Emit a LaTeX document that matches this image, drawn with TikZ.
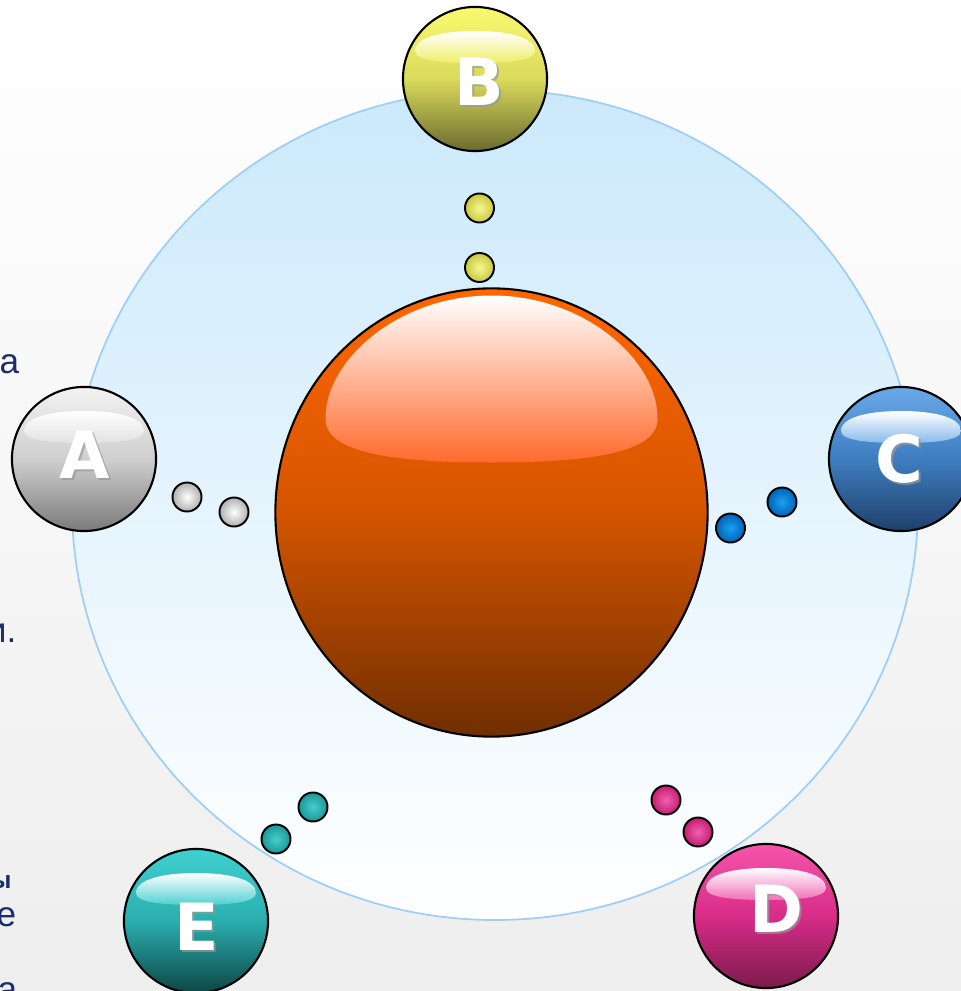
\documentclass[tikz,border=0pt]{standalone}
\usepackage{fontspec}
\setmainfont{Liberation Sans}
\newfontfamily\letterfont{DejaVu Sans}
\usetikzlibrary{shapes.geometric}

%% Colours
\definecolor{textNavy}{HTML}{1C2D6B}
\definecolor{pageBot}{HTML}{EEEEEE}
\definecolor{ringFill}{HTML}{CBE9FC}
\definecolor{ringLine}{HTML}{9FCFF7}
\definecolor{coreTop}{HTML}{FF6600}
\definecolor{coreMid}{HTML}{D45500}
\definecolor{coreBot}{HTML}{702E00}
\definecolor{coreHi}{HTML}{FF6A2C}
\definecolor{ATop}{HTML}{F2F2F2}\definecolor{AMid}{HTML}{CFCFCF}\definecolor{ABot}{HTML}{7A7A7A}
\definecolor{AHi}{HTML}{E2E2E2}\definecolor{AIn}{HTML}{FFFFFF}\definecolor{AOut}{HTML}{B0B0B0}
\definecolor{BTop}{HTML}{FAFA70}\definecolor{BMid}{HTML}{DADA5C}\definecolor{BBot}{HTML}{6A6A2E}
\definecolor{BHi}{HTML}{EEEE6A}\definecolor{BIn}{HTML}{F8F890}\definecolor{BOut}{HTML}{C8C840}
\definecolor{CTop}{HTML}{6AA8E8}\definecolor{CMid}{HTML}{3E7EC0}\definecolor{CBot}{HTML}{1E406C}
\definecolor{CHi}{HTML}{88BAEC}\definecolor{CIn}{HTML}{1AA0F4}\definecolor{COut}{HTML}{0062B4}
\definecolor{DTop}{HTML}{F555AA}\definecolor{DMid}{HTML}{D82C88}\definecolor{DBot}{HTML}{7C1A4C}
\definecolor{DHi}{HTML}{F070B8}\definecolor{DIn}{HTML}{F060B0}\definecolor{DOut}{HTML}{C41C72}
\definecolor{ETop}{HTML}{40D0D0}\definecolor{EMid}{HTML}{2AAEAE}\definecolor{EBot}{HTML}{0E4444}
\definecolor{EHi}{HTML}{50D0D0}\definecolor{EIn}{HTML}{48CCCC}\definecolor{EOut}{HTML}{1A9898}

\tikzset{
  sphere/.style={circle,draw=black,line width=0.6pt,minimum size=1.44cm,inner sep=0pt,
    top color=#1Top,bottom color=#1Bot,middle color=#1Mid},
  dot/.style={circle,draw=black,line width=0.55pt,minimum size=0.29cm,inner sep=0pt,
    inner color=#1In,outer color=#1Out},
  letter/.style={inner sep=0pt,text=white,font=\letterfont\bfseries\fontsize{18.5}{20}\selectfont},
  letter shadow/.style={letter,text=black!40,opacity=0.7},
  fragment/.style={anchor=base east,inner sep=0pt,text=textNavy,font=\fontsize{10}{12}\selectfont}
}

\begin{document}
\begin{tikzpicture}[x=0.01cm,y=0.01cm]
        \useasboundingbox (0,0) rectangle (961,-991);
        %% Background
        \shade[top color=white,bottom color=pageBot] (0,0) rectangle (961,-991);
        \draw[ringLine,line width=0.5pt,top color=ringFill,bottom color=white]
            (495,-505) ellipse [x radius=423,y radius=415];
        %% Core
        \node[ellipse,draw=black,line width=0.6pt,minimum width=4.32cm,minimum height=4.48cm,inner sep=0pt,
            top color=coreTop,bottom color=coreBot,middle color=coreMid] (core) at (491.5,-512.5) {};
        \shade[shift={(core.center)},top color=white,bottom color=coreHi]
            (-166,92) .. controls (-168,150) and (-95,217) .. (0,217) .. controls (95,217) and (168,150) .. (166,92)
            .. controls (164,58) and (90,50) .. (0,50) .. controls (-90,50) and (-164,58) .. (-166,92) -- cycle;
        %% Dots
        \node[dot=A] (A1) at (187,-497) {};
        \node[dot=A] (A2) at (234,-512) {};
        \node[dot=B] (B1) at (479.5,-208) {};
        \node[dot=B] (B2) at (479.5,-267.5) {};
        \node[dot=C] (C1) at (730.5,-528) {};
        \node[dot=C] (C2) at (782,-502) {};
        \node[dot=D] (D1) at (666,-800) {};
        \node[dot=D] (D2) at (698,-832) {};
        \node[dot=E] (E1) at (276,-839) {};
        \node[dot=E] (E2) at (313,-807) {};
        %% Spheres
        \node[sphere=A] (A) at (84,-459) {};
        \node[sphere=B] (B) at (475,-79) {};
        \node[sphere=C] (C) at (901,-459) {};
        \node[sphere=D] (D) at (766,-916) {};
        \node[sphere=E] (E) at (196,-921) {};
        %% Gloss and letters
        \foreach \name/\x/\y in {A/85/-455,B/479/-82,C/899/-459,D/776/-909,E/197/-927}{
            \shade[shift={(\name.center)},top color=white,bottom color=\name Hi]
                (-60,28) .. controls (-60,42) and (-32,48) .. (0,48) .. controls (32,48) and (60,42) .. (60,28)
                .. controls (60,18) and (30,16) .. (0,16) .. controls (-30,16) and (-60,18) .. (-60,28) -- cycle;
            \node[letter shadow] (\name-shadow) at (\x+2,\y-2) {\name};
            \node[letter] (\name-text) at (\x,\y) {\name};
        }
        %% Cut text
        \node[fragment] (frag1) at (20,-373) {а};
        \node[fragment] (frag2) at (17,-642) {и.};
        \node[fragment,font=\bfseries\fontsize{7}{8}\selectfont] (frag3) at (12,-888) {ы};
        \node[fragment] (frag4) at (17,-926) {е};
        \node[fragment] (frag5) at (18,-1001) {а};
    \end{tikzpicture}
\end{document}
